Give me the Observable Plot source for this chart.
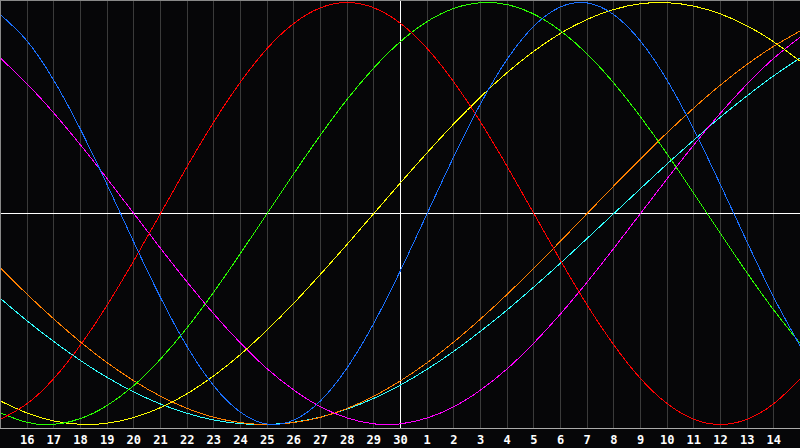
<!DOCTYPE html>
<html>
<head>
<meta charset="utf-8">
<script src="https://cdn.jsdelivr.net/npm/d3@7"></script>
<script src="https://cdn.jsdelivr.net/npm/@observablehq/plot@0.6"></script>
<style>
  html, body { margin: 0; padding: 0; background: #060608; }
  #chart svg { display: block; }
</style>
</head>
<body>
<div id="chart"></div>
<script>
// Day labels: index 0 .. 30 along the x axis
const dayLabels = ["15","16","17","18","19","20","21","22","23","24","25","26","27","28","29","30",
                   "1","2","3","4","5","6","7","8","9","10","11","12","13","14","15"];

// Values per day index (0..30), range -1..1
const physicalVals = [0.942,0.817,0.631,0.398,0.136,-0.136,-0.398,-0.631,-0.817,-0.942,-0.998,-0.979,-0.888,-0.731,-0.520,-0.270,
                  0.000,0.270,0.520,0.731,0.888,0.979,0.998,0.942,0.817,0.631,0.398,0.136,-0.136,-0.398,-0.631];
const emotionalVals = [-0.975,-0.901,-0.782,-0.623,-0.434,-0.223,0.000,0.223,0.434,0.623,0.782,0.901,0.975,1.000,0.975,0.901,
                 0.782,0.623,0.434,0.223,0.000,-0.223,-0.434,-0.623,-0.782,-0.901,-0.975,-1.000,-0.975,-0.901,-0.782];
const intellectualVals = [-0.945,-0.990,-0.999,-0.972,-0.910,-0.815,-0.690,-0.541,-0.372,-0.189,0.000,0.189,0.372,0.541,0.690,0.815,
                   0.910,0.972,0.999,0.990,0.945,0.866,0.756,0.618,0.458,0.282,0.095,-0.095,-0.282,-0.458,-0.618];
const intuitiveVals = [0.736,0.614,0.476,0.325,0.165,0.000,-0.165,-0.325,-0.476,-0.614,-0.736,-0.837,-0.916,-0.969,-0.997,-0.997,
                     -0.969,-0.916,-0.837,-0.736,-0.614,-0.476,-0.325,-0.165,0.000,0.165,0.325,0.476,0.614,0.736,0.837];
const aestheticVals = [-0.889,-0.946,-0.983,-0.999,-0.994,-0.967,-0.920,-0.854,-0.769,-0.668,-0.552,-0.425,-0.288,-0.146,0.000,0.146,
                    0.288,0.425,0.552,0.668,0.769,0.854,0.920,0.967,0.994,0.999,0.983,0.946,0.889,0.813,0.720];
const awarenessVals = [-0.259,-0.383,-0.500,-0.609,-0.707,-0.793,-0.866,-0.924,-0.966,-0.991,-1.000,-0.991,-0.966,-0.924,-0.866,-0.793,
                    -0.707,-0.609,-0.500,-0.383,-0.259,-0.131,0.000,0.131,0.259,0.383,0.500,0.609,0.707,0.793,0.866];
const spiritualVals = [-0.403,-0.509,-0.607,-0.697,-0.777,-0.846,-0.903,-0.947,-0.979,-0.996,-1.000,-0.989,-0.965,-0.927,-0.876,-0.813,
                  -0.738,-0.653,-0.558,-0.457,-0.348,-0.235,-0.118,0.000,0.118,0.235,0.348,0.457,0.558,0.653,0.738];

const seriesNames = ["spiritual","awareness","intuitive","aesthetic","intellectual","emotional","physical"];
const seriesValues = [spiritualVals, awarenessVals, intuitiveVals, aestheticVals, intellectualVals, emotionalVals, physicalVals];
const seriesColors = ["#30ffff","#ff8000","#ff00ff","#ffff00","#2aff00","#ff0000","#1a70ff"];

const rows = [];
seriesNames.forEach((name, s) => {
  seriesValues[s].forEach((v, i) => rows.push({series: name, day: i, value: v}));
});

const tickIdx = d3.range(1, 30);
const gridIdx = tickIdx.filter(i => dayLabels[i] !== "30");
const midIdx = tickIdx.filter(i => dayLabels[i] === "30");

const chart = Plot.plot({
  width: 800,
  height: 448,
  marginTop: 0,
  marginRight: 0,
  marginBottom: 20,
  marginLeft: 0,
  style: {background: "#060608", overflow: "visible"},
  x: {domain: [0, 30], range: [0, 800], axis: null},
  y: {domain: [-1, 1], range: [424, 2], axis: null},
  color: {domain: seriesNames, range: seriesColors},
  marks: [
    Plot.ruleX(gridIdx, {stroke: "#3a3a3a", strokeWidth: 1, shapeRendering: "crispEdges"}),
    Plot.ruleX(midIdx, {stroke: "#ffffff", strokeWidth: 1, shapeRendering: "crispEdges"}),
    Plot.ruleY([0], {stroke: "#ffffff", strokeWidth: 1, shapeRendering: "crispEdges"}),
    Plot.line(rows, {x: "day", y: "value", z: "series", stroke: "series", strokeWidth: 1,
                     curve: "natural", shapeRendering: "crispEdges"}),
    Plot.ruleX([0], {stroke: "#888888", strokeWidth: 1, shapeRendering: "crispEdges"}),
    Plot.frame({anchor: "top", stroke: "#888888", strokeWidth: 1, shapeRendering: "crispEdges"}),
    Plot.frame({anchor: "bottom", stroke: "#aaaaaa", strokeWidth: 1, shapeRendering: "crispEdges"}),
    Plot.axisX(tickIdx, {
      tickFormat: i => dayLabels[i],
      tickSize: 0,
      tickPadding: 7,
      fill: "#ffffff",
      fontSize: 12,
      fontWeight: "bold",
      fontFamily: "DejaVu Sans Mono",
      label: null
    })
  ]
});

document.getElementById("chart").append(chart);
</script>
</body>
</html>
